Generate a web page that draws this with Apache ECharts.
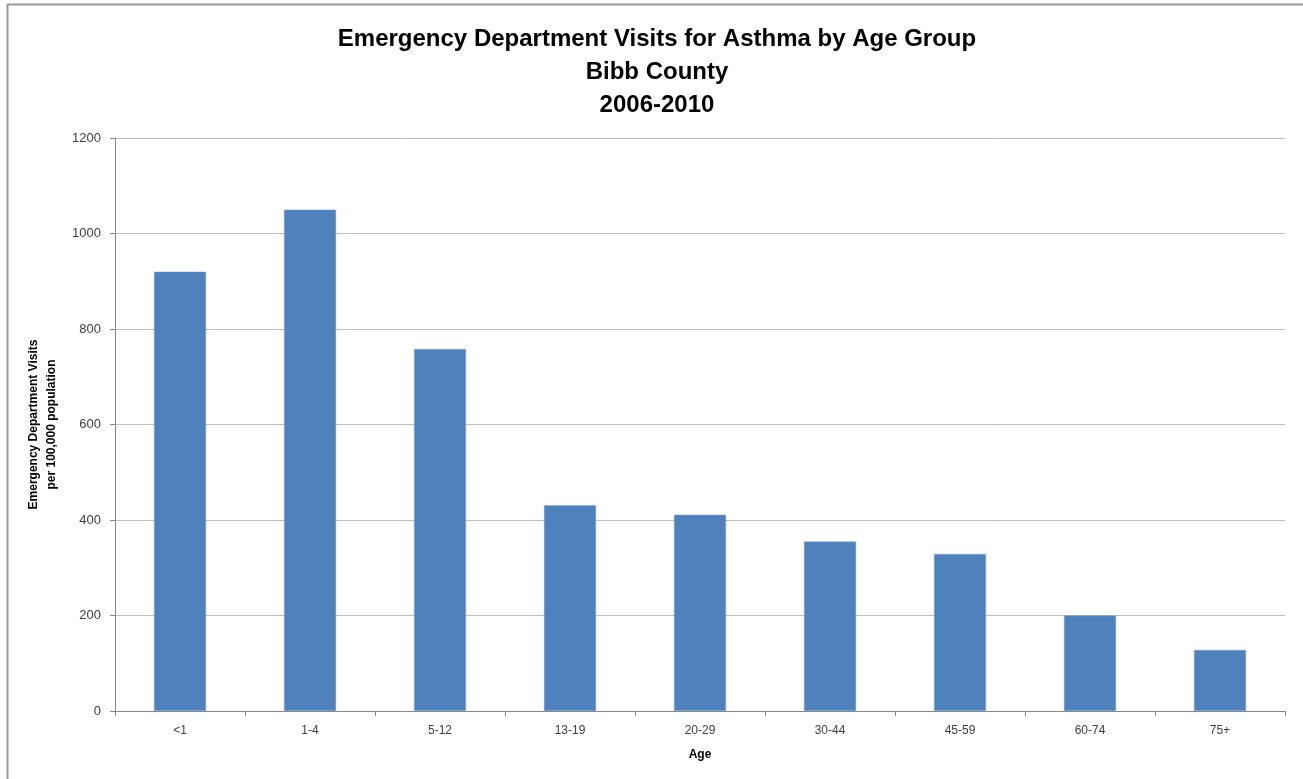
<!DOCTYPE html>
<html><head><meta charset="utf-8">
<script src="https://cdn.jsdelivr.net/npm/echarts@6/dist/echarts.min.js"></script>
<style>html,body{margin:0;padding:0;background:#fff}#c{width:1303px;height:779px}</style>
</head><body><div id="c"></div>
<script>
const categories = ['<1','1-4','5-12','13-19','20-29','30-44','45-59','60-74','75+'];
const visits = [920, 1050, 758, 431, 411, 355, 329, 200, 128];
const yTicks = [0, 200, 400, 600, 800, 1000, 1200];

const chart = echarts.init(document.getElementById('c'));
chart.setOption({
  animation: false,
  backgroundColor: '#fff',
  graphic: [{
    type: 'rect', left: 5, top: 2, shape: {width: 1400, height: 800},
    style: {fill: 'none', stroke: '#999999', lineWidth: 2}, silent: true
  }],
  title: {
    text: 'Emergency Department Visits for Asthma by Age Group\nBibb County\n2006-2010',
    left: 652, textAlign: 'center', top: 18,
    textStyle: {fontFamily: 'Liberation Sans', fontWeight: 'bold', fontSize: 24, lineHeight: 33, color: '#000'}
  },
  grid: {left: 115, right: 18, top: 138, bottom: 68},
  xAxis: {
    type: 'category', data: categories,
    name: 'Age', nameLocation: 'middle', nameGap: 38,
    nameTextStyle: {fontFamily: 'Liberation Sans', fontWeight: 'bold', fontSize: 12, color: '#000'},
    axisLine: {lineStyle: {color: '#868686', width: 1}},
    axisTick: {show: true, alignWithLabel: false, length: 5, lineStyle: {color: '#868686'}},
    axisLabel: {fontFamily: 'Liberation Sans', fontSize: 12, color: '#404040', margin: 14}
  },
  yAxis: {
    type: 'value', min: yTicks[0], max: yTicks[yTicks.length-1], interval: 200,
    name: 'Emergency Department Visits\nper 100,000 population',
    nameLocation: 'middle', nameGap: 52, nameRotate: 90,
    nameTextStyle: {fontFamily: 'Liberation Sans', fontWeight: 'bold', fontSize: 12, color: '#000', lineHeight: 18},
    axisLine: {show: true, lineStyle: {color: '#868686', width: 1}},
    axisTick: {show: true, length: 5, lineStyle: {color: '#868686'}},
    axisLabel: {fontFamily: 'Liberation Sans', fontSize: 13, color: '#404040', margin: 14,
      formatter: v => String(v)},
    splitLine: {show: true, lineStyle: {color: '#bfbfbf', width: 1}}
  },
  series: [{
    type: 'bar', data: visits, barWidth: 52,
    itemStyle: {color: '#4f81bd', borderColor: '#7ea3cf', borderWidth: 0.5}
  }]
});
</script></body></html>
